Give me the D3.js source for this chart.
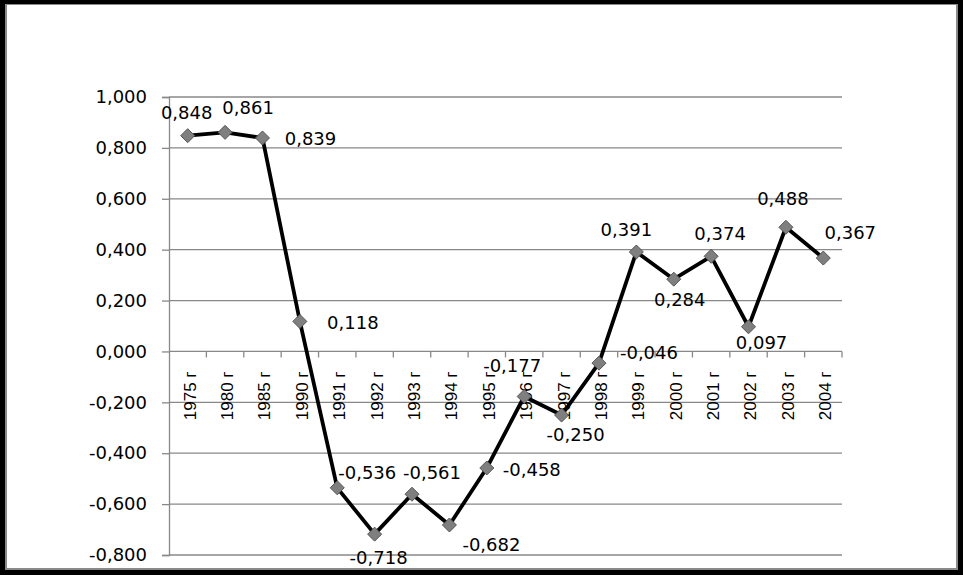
<!DOCTYPE html>
<html>
<head>
<meta charset="utf-8">
<script src="https://cdn.jsdelivr.net/npm/d3@7"></script>
<style>
  html, body { margin: 0; padding: 0; background: #fff; }
  svg { display: block; }
</style>
</head>
<body>
<svg id="chart" width="963" height="575"></svg>
<script>
// ---- data ----
const categories = ["1975 г","1980 г","1985 г","1990 г","1991 г","1992 г","1993 г","1994 г","1995 г",
                    "1996 г","1997 г","1998 г","1999 г","2000 г","2001 г","2002 г","2003 г","2004 г"];
const values = [0.848, 0.861, 0.839, 0.118, -0.536, -0.718, -0.561, -0.682, -0.458,
                -0.177, -0.250, -0.046, 0.391, 0.284, 0.374, 0.097, 0.488, 0.367];
const yTicks = [-0.8, -0.6, -0.4, -0.2, 0, 0.2, 0.4, 0.6, 0.8, 1.0];
// label placement offsets (layout only)
const labelOffsets = [[-1,-23],[23,-25],[48,1],[53,1],[30,-15],[4,24],[20,-21],[42,20],[45,2],
                      [-12,-31],[14,20],[50,-10],[-10,-22],[6,21],[9,-23],[13,16],[-3,-29],[27,-25]];

const fmt = v => d3.format(".3f")(v).replace(".", ",").replace("−", "-");

const svg = d3.select("#chart");
const W = 963, H = 575;
const plot = {left: 169, right: 842, top: 97, bottom: 555};

// frame
svg.append("rect").attr("x", 0).attr("y", 0).attr("width", W).attr("height", H).attr("fill", "#000");
svg.append("rect").attr("x", 5).attr("y", 4).attr("width", W - 10).attr("height", H - 9).attr("fill", "#8a8a8a");
svg.append("rect").attr("x", 7).attr("y", 5).attr("width", W - 14).attr("height", H - 12).attr("fill", "#fff");

const x = d3.scaleBand().domain(categories).range([plot.left, plot.right]).padding(0);
const y = d3.scaleLinear().domain([-0.8, 1.0]).range([plot.bottom, plot.top]);

const gridColor = "#888";

// horizontal gridlines + y axis
const yAxis = d3.axisLeft(y).tickValues(yTicks).tickSize(7).tickFormat(fmt);
const gy = svg.append("g").attr("transform", `translate(${plot.left},0)`).call(yAxis);
gy.select(".domain").attr("stroke", gridColor).attr("stroke-width", 1.3);
gy.selectAll(".tick line").attr("stroke", gridColor).attr("stroke-width", 1.3);
gy.selectAll(".tick text")
  .attr("x", -22)
  .attr("font-family", "'DejaVu Sans', sans-serif")
  .attr("font-size", 18)
  .attr("fill", "#000");
svg.append("g").selectAll("line").data(yTicks).join("line")
  .attr("x1", plot.left).attr("x2", plot.right)
  .attr("y1", d => y(d)).attr("y2", d => y(d))
  .attr("stroke", gridColor).attr("stroke-width", 1.3);

// category axis at zero
const xAxis = d3.axisBottom(x).tickSize(0).tickFormat(d => d);
const gx = svg.append("g").attr("transform", `translate(0,${y(0)})`).call(xAxis);
gx.select(".domain").remove();
gx.selectAll(".tick text")
  .attr("transform", "rotate(-90)")
  .attr("text-anchor", "end")
  .attr("x", -20)
  .attr("y", 2)
  .attr("dy", "0.35em")
  .attr("font-family", "'Liberation Sans', Arial, sans-serif")
  .attr("font-size", 17)
  .attr("fill", "#000");
// boundary tick marks
const bounds = categories.map(c => x(c)).concat([x(categories[categories.length - 1]) + x.bandwidth()]);
svg.append("g").selectAll("line").data(bounds.slice(1)).join("line")
  .attr("x1", d => d).attr("x2", d => d)
  .attr("y1", y(0)).attr("y2", y(0) + 6)
  .attr("stroke", gridColor).attr("stroke-width", 1.3);

// line
const px = (d, i) => x(categories[i]) + x.bandwidth() / 2;
const line = d3.line().x((d, i) => px(d, i)).y(d => y(d));
svg.append("path").datum(values)
  .attr("d", line)
  .attr("fill", "none")
  .attr("stroke", "#000")
  .attr("stroke-width", 3.8)
  .attr("stroke-linejoin", "round");

// markers
const r = 7;
svg.append("g").selectAll("path").data(values).join("path")
  .attr("d", (d, i) => {
    const cx = px(d, i), cy = y(d);
    return `M${cx},${cy - r}L${cx + r},${cy}L${cx},${cy + r}L${cx - r},${cy}Z`;
  })
  .attr("fill", "#7f7f7f")
  .attr("stroke", "#555")
  .attr("stroke-width", 1);

// data labels
svg.append("g").selectAll("text").data(values).join("text")
  .attr("x", (d, i) => px(d, i) + labelOffsets[i][0])
  .attr("y", (d, i) => y(d) + labelOffsets[i][1])
  .attr("dy", "0.35em")
  .attr("text-anchor", "middle")
  .attr("font-family", "'DejaVu Sans', sans-serif")
  .attr("font-size", 18)
  .attr("fill", "#000")
  .text(d => fmt(d));
</script>
</body>
</html>
